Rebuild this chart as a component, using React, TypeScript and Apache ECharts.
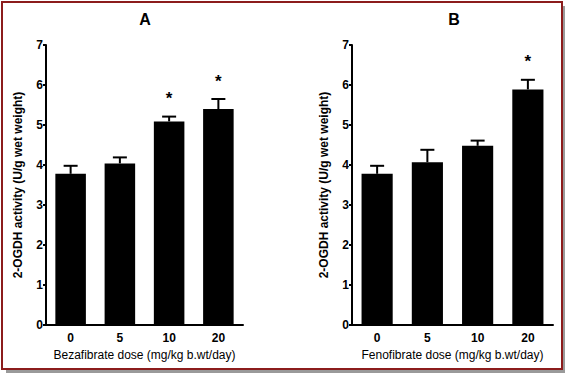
import React, { useEffect, useRef } from "react";
import * as echarts from "echarts";

const categories = ["0", "5", "10", "20"];
const bezaMean = [3.78, 4.04, 5.09, 5.4];
const bezaErr = [0.2, 0.15, 0.12, 0.25];
const bezaSig = ["", "", "*", "*"];
const fenoMean = [3.78, 4.07, 4.48, 5.89];
const fenoErr = [0.2, 0.31, 0.13, 0.24];
const fenoSig = ["", "", "", "*"];
const yTicks = [0, 1, 2, 3, 4, 5, 6, 7];
const panelTitles = ["A", "B"];
const xNames = ["Bezafibrate dose (mg/kg b.wt/day)", "Fenofibrate dose (mg/kg b.wt/day)"];
const yName = "2-OGDH activity (U/g wet weight)";

const FONT = "Arial, 'Liberation Sans', sans-serif";

function errSeries(idx: number, means: number[], errs: number[], sig: string[]) {
  return {
    type: "custom",
    xAxisIndex: idx,
    yAxisIndex: idx,
    z: 5,
    data: means.map((m, i) => [i, m, m + errs[i], sig[i]]),
    renderItem: (params: any, api: any) => {
      const x = api.value(0);
      const p0 = api.coord([x, api.value(1)]);
      const p1 = api.coord([x, api.value(2)]);
      const s = api.value(3);
      const children: any[] = [
        { type: "line", shape: { x1: p0[0], y1: p0[1], x2: p1[0], y2: p1[1] }, style: { stroke: "#000", lineWidth: 2 } },
        { type: "line", shape: { x1: p1[0] - 7, y1: p1[1], x2: p1[0] + 7, y2: p1[1] }, style: { stroke: "#000", lineWidth: 2 } },
      ];
      if (s) {
        children.push({
          type: "text",
          style: {
            text: s,
            x: p1[0],
            y: p1[1] - 18,
            align: "center",
            verticalAlign: "middle",
            font: `bold 17px ${FONT}`,
            fill: "#000",
          },
        });
      }
      return { type: "group", children };
    },
  };
}

export default function App() {
  const ref = useRef<HTMLDivElement>(null);
  useEffect(() => {
    document.body.style.margin = "0";
    const chart = echarts.init(ref.current!, null, { renderer: "svg" });
    const grids = [
      { left: 46, top: 45, width: 197, height: 280 },
      { left: 352, top: 45, width: 201, height: 280 },
    ];
    const xAxes = grids.map((_, i) => ({
      type: "category",
      gridIndex: i,
      data: categories,
      name: xNames[i],
      nameLocation: "middle",
      nameGap: 22,
      nameTextStyle: { color: "#000", fontFamily: FONT, fontSize: 12 },
      axisLine: { lineStyle: { color: "#000", width: 2 } },
      axisTick: { show: false },
      axisLabel: { color: "#000", fontFamily: FONT, fontWeight: "bold", fontSize: 12, margin: 7 },
    }));
    const yAxes = grids.map((_, i) => ({
      type: "value",
      gridIndex: i,
      min: yTicks[0],
      max: yTicks[yTicks.length - 1],
      interval: 1,
      name: yName,
      nameLocation: "middle",
      nameGap: 22,
      nameRotate: 90,
      nameTextStyle: { color: "#000", fontFamily: FONT, fontSize: 12, fontWeight: "bold" },
      splitLine: { show: false },
      axisLine: { show: true, lineStyle: { color: "#000", width: 2 } },
      axisTick: { show: true, length: 3, lineStyle: { color: "#000", width: 2 } },
      axisLabel: { color: "#000", fontFamily: FONT, fontWeight: "bold", fontSize: 12, margin: 3 },
    }));
    chart.setOption({
      animation: false,
      backgroundColor: "#fff",
      title: [
        { text: panelTitles[0], left: 140, top: 6, textAlign: "center", textStyle: { fontFamily: FONT, fontSize: 16, fontWeight: "bold", color: "#000" } },
        { text: panelTitles[1], left: 449, top: 6, textAlign: "center", textStyle: { fontFamily: FONT, fontSize: 16, fontWeight: "bold", color: "#000" } },
      ],
      grid: grids,
      xAxis: xAxes,
      yAxis: yAxes,
      series: [
        { type: "bar", xAxisIndex: 0, yAxisIndex: 0, data: bezaMean, barWidth: "62%", itemStyle: { color: "#000" } },
        errSeries(0, bezaMean, bezaErr, bezaSig),
        { type: "bar", xAxisIndex: 1, yAxisIndex: 1, data: fenoMean, barWidth: "62%", itemStyle: { color: "#000" } },
        errSeries(1, fenoMean, fenoErr, fenoSig),
      ],
      graphic: [
        { type: "line", shape: { x1: 6, y1: 371.5, x2: 565, y2: 371.5 }, style: { stroke: "#9a9a9a", lineWidth: 3 }, silent: true },
        { type: "line", shape: { x1: 564, y1: 6, x2: 564, y2: 373 }, style: { stroke: "#9a9a9a", lineWidth: 3 }, silent: true },
        { type: "rect", shape: { x: 2, y: 2, width: 560, height: 367 }, style: { fill: "none", stroke: "#8c1c1c", lineWidth: 2 }, silent: true },
      ],
    });
    return () => chart.dispose();
  }, []);
  return <div ref={ref} style={{ width: 565, height: 373 }} />;
}
